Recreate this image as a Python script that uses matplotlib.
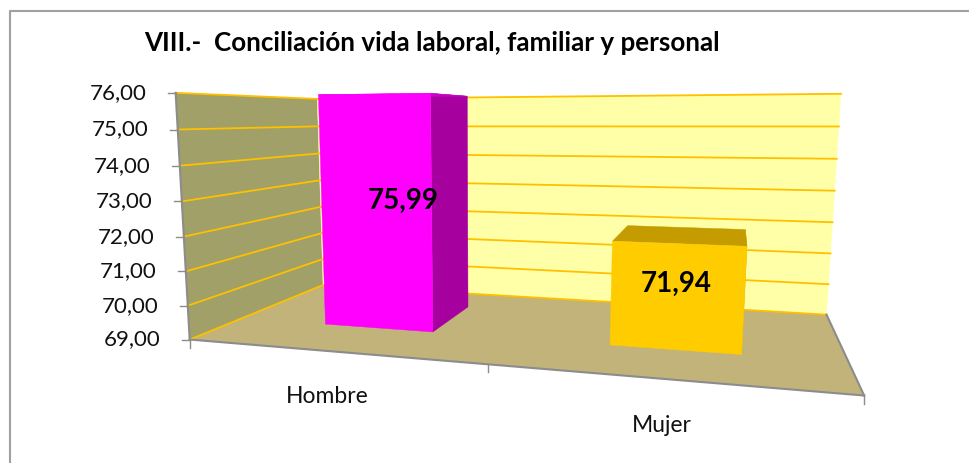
import matplotlib
matplotlib.use("Agg")
import matplotlib.pyplot as plt
import numpy as np
from matplotlib.patches import Polygon

plt.rcParams["font.family"] = ["Lato", "DejaVu Sans"]

categories = ["Hombre", "Mujer"]
values = [75.99, 71.94]
value_labels = ["75,99", "71,94"]
y_ticks = [69, 70, 71, 72, 73, 74, 75, 76]
y_labels = ["69,00", "70,00", "71,00", "72,00", "73,00", "74,00", "75,00", "76,00"]
title = "VIII.-  Conciliación vida laboral, familiar y personal"

bar_front = ["#ff00ff", "#ffcc00"]
bar_side = ["#a6009e", "#e3b500"]
bar_top = ["#c800c8", "#c49c00"]

# box corners on the page -> (s along categories, d depth, v value)
s_known = [0, 1, 1, 0, 0, 1, 0, 0.5]
d_known = [0, 0, 1, 1, 1, 1, 0, 0]
v_known = [69, 69, 69, 69, 76, 76, 76, 69]
px_known = [192, 863, 828, 322, 317, 841, 176, 486]
py_known = [338, 399, 309, 287, 100, 96, 89, 367]


def fit_camera():
    rows = []
    for s, d, v, x, y in zip(s_known, d_known, v_known, px_known, py_known):
        h = (v - 69) / 7
        rows.append([s, d, h, 1, 0, 0, 0, 0, -x * s, -x * d, -x * h, -x])
        rows.append([0, 0, 0, 0, s, d, h, 1, -y * s, -y * d, -y * h, -y])
    return np.linalg.svd(np.array(rows, dtype=float))[2][-1].reshape(3, 4)


CAM = fit_camera()


def pr(s, d, v):
    p = CAM @ np.array([s, d, (v - 69) / 7, 1.0])
    return p[0] / p[2], p[1] / p[2]


fig = plt.figure(figsize=(9.7, 4.63), dpi=100)
ax = fig.add_axes([0, 0, 1, 1])
ax.set_xlim(0, 970)
ax.set_ylim(463, 0)
ax.axis("off")

ax.plot([10, 10, 970], [463, 11, 11], color="#a0a0a0", lw=1.5)


def poly(pts, color, z):
    ax.add_patch(Polygon(pts, closed=True, fc=color, ec=color, lw=0.3, zorder=z))


poly([pr(0, 0, 69), pr(0, 1, 69), pr(0, 1, 76), pr(0, 0, 76)], "#a0a068", 1)
poly([pr(0, 1, 69), pr(1, 1, 69), pr(1, 1, 76), pr(0, 1, 76)], "#ffffa8", 1)
poly([pr(0, 0, 69), pr(1, 0, 69), pr(1, 1, 69), pr(0, 1, 69)], "#c1b37a", 1)

for v, lab in zip(y_ticks, y_labels):
    a, b, c = pr(0, 0, v), pr(0, 1, v), pr(1, 1, v)
    ax.plot([a[0], b[0], c[0]], [a[1], b[1], c[1]], color="#ffc000", lw=1.3, zorder=2)
    ax.plot([a[0] - 8, a[0]], [a[1], a[1]], color="#8c8c8c", lw=1.0, zorder=3)
    ax.text(a[0] - 29, a[1], lab, ha="right", va="center", fontsize=16, color="#111111")

# axis lines
a, b, c = pr(0, 0, 69), pr(0, 0, 76), pr(1, 0, 69)
ax.plot([a[0], b[0]], [a[1], b[1]], color="#8c8c8c", lw=1.5, zorder=3)
ax.plot([a[0], c[0]], [a[1], c[1]], color="#8c8c8c", lw=1.5, zorder=3)
d = pr(1, 1, 69)
ax.plot([c[0], d[0]], [c[1], d[1]], color="#8c8c8c", lw=1.5, zorder=3)
for s in [0, 0.5, 1]:
    p = pr(s, 0, 69)
    ax.plot([p[0], p[0]], [p[1], p[1] + 8], color="#8c8c8c", lw=1.0, zorder=3)

bar_w = 0.197
d0, d1 = 0.33, 0.75
bar_s = [0.262, 0.753]
label_dx = [27, 0]
for i, val in enumerate(values):
    sc = bar_s[i]
    s0, s1 = sc - bar_w / 2, sc + bar_w / 2
    poly([pr(s1, d0, 69), pr(s1, d1, 69), pr(s1, d1, val), pr(s1, d0, val)], bar_side[i], 4)
    poly([pr(s0, d0, val), pr(s1, d0, val), pr(s1, d1, val), pr(s0, d1, val)], bar_top[i], 4)
    poly([pr(s0, d0, 69), pr(s1, d0, 69), pr(s1, d0, val), pr(s0, d0, val)], bar_front[i], 5)
    lx, ly = pr(sc, d0, 69 + (val - 69) * 0.5)
    ax.text(lx + label_dx[i], ly - 13, value_labels[i], ha="center", va="center",
            fontsize=20, fontweight="bold", color="black", zorder=6)
    p = pr(0.25 + 0.5 * i, 0, 69)
    ax.text(p[0] - 3, p[1] + 45 + 2 * i, categories[i], ha="center", va="center", fontsize=16.5, color="#111111")

ax.text(144, 43, title, ha="left", va="center", fontsize=18.7, fontweight="bold", color="black")

fig.savefig("out.png", dpi=100)
